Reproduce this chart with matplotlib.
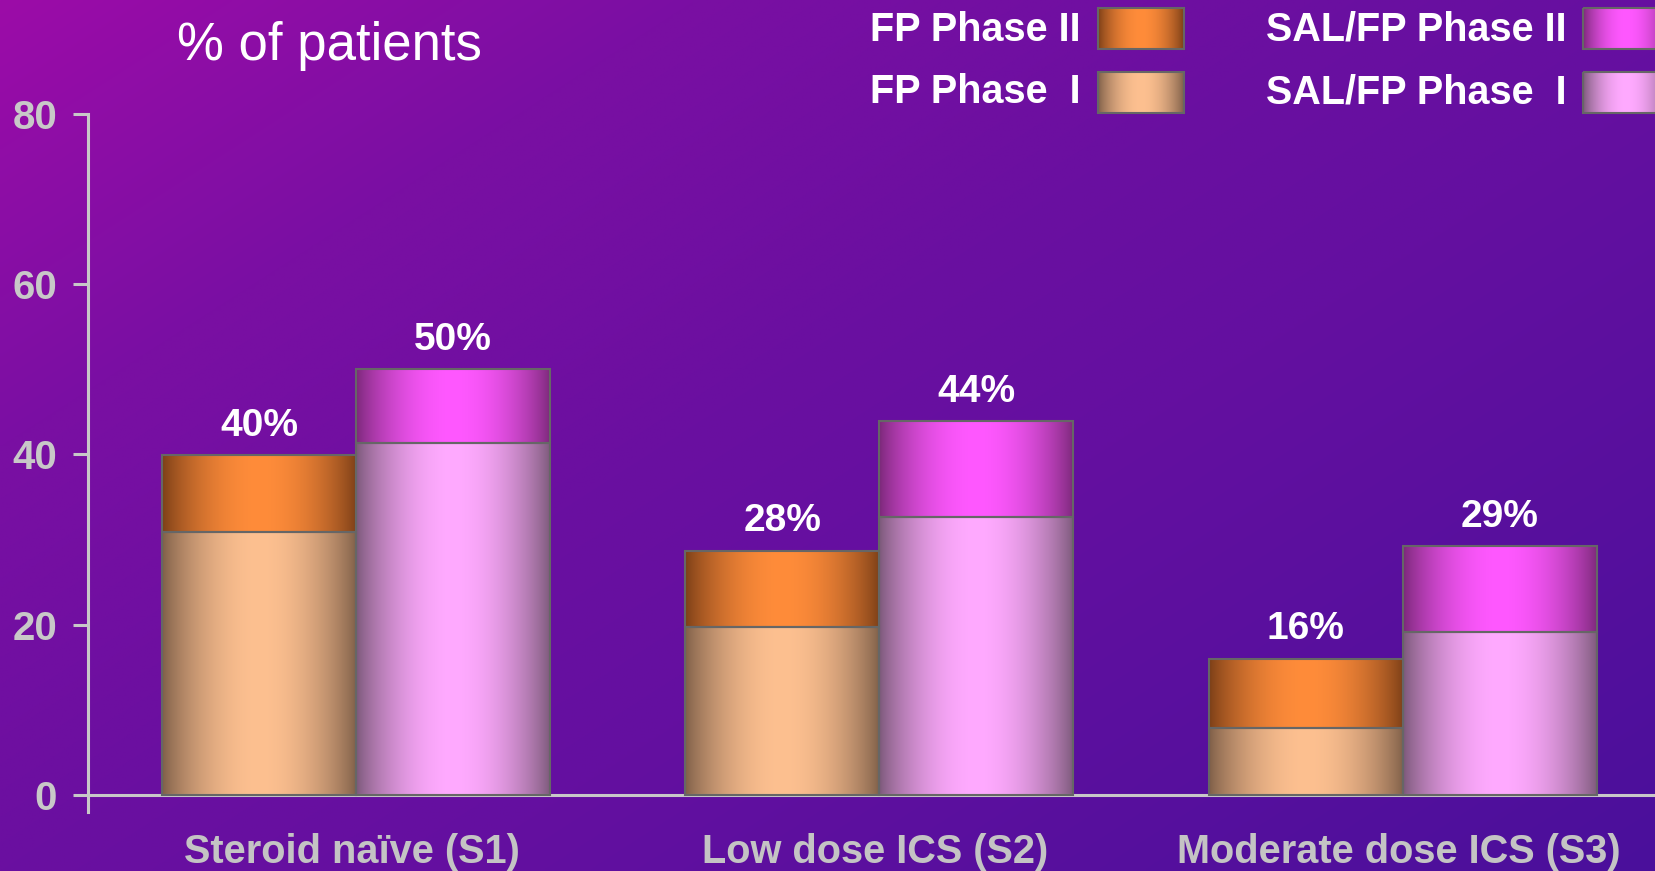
import numpy as np
import matplotlib
matplotlib.use("Agg")
import matplotlib.pyplot as plt
from matplotlib.colors import to_rgb
from matplotlib.patches import Rectangle

plt.rcParams['font.family'] = ['Liberation Sans', 'DejaVu Sans']

# data
groups = ["Steroid naïve (S1)", "Low dose ICS (S2)", "Moderate dose ICS (S3)"]
fp_phase1 = [30.9, 19.7, 7.9]
fp_phase2 = [9.0, 9.0, 8.1]
sal_phase1 = [41.3, 32.6, 19.2]
sal_phase2 = [8.7, 11.3, 10.0]
fp_labels = ["40%", "28%", "16%"]
sal_labels = ["50%", "44%", "29%"]
yticks = [0, 20, 40, 60, 80]
legend_rows = [("FP Phase II", "SAL/FP Phase II"), ("FP Phase  I", "SAL/FP Phase  I")]

# (dark edge, bright centre) for each segment
C_FP2 = ("#7a3e17", "#ff8c3a")
C_FP1 = ("#7d5e48", "#fdc090")
C_SAL2 = ("#7a2878", "#ff58ff")
C_SAL1 = ("#7a5878", "#ffaaff")
EDGE = "#666666"
AXC = "#c8c8c8"

W, H = 1656, 871


def grad_row(cols, n=256):
    t = np.linspace(0, 1, n)
    f = np.sin(np.pi * t) ** 0.8
    d, b = np.array(to_rgb(cols[0])), np.array(to_rgb(cols[1]))
    return (d + (b - d) * f[:, None])[None, :, :]


fig = plt.figure(figsize=(W / 100, H / 100), dpi=100)

# background: diagonal purple gradient
bg = fig.add_axes([0, 0, 1, 1], zorder=-1)
yy, xx = np.mgrid[0:1:200j, 0:1:400j]
t = xx * 0.55 + yy * 0.45
bg_pos = [0, 0.23, 0.45, 0.6, 1.0]
bg_cols = np.array([to_rgb(c) for c in ["#9c0ca8", "#7a0fa3", "#6a0fa0", "#6410a0", "#4a0f9b"]])
img = np.stack([np.interp(t, bg_pos, bg_cols[:, k]) for k in range(3)], axis=-1)
bg.imshow(img, extent=[0, 1, 0, 1], aspect="auto", interpolation="bilinear")
bg.axis("off")

# main axes
ax = fig.add_axes([88 / W, (H - 812) / H, (W - 88) / W, (812 - 114) / H])
ax.patch.set_alpha(0)
x = np.arange(len(groups))
bw = 0.3707


def draw_stack(xpos, bottoms, heights, cols):
    bars = ax.bar(xpos, heights, bw, bottom=bottoms, facecolor="none",
                  edgecolor=EDGE, linewidth=1.5, zorder=3)
    for p in bars:
        x0, y0 = p.get_x(), p.get_y()
        ax.imshow(grad_row(cols), extent=[x0, x0 + p.get_width(), y0, y0 + p.get_height()],
                  aspect="auto", interpolation="bilinear", zorder=2)
    return bars


fx = x - bw / 2
sx = x + bw / 2
draw_stack(fx, 0, fp_phase1, C_FP1)
draw_stack(fx, fp_phase1, fp_phase2, C_FP2)
draw_stack(sx, 0, sal_phase1, C_SAL1)
draw_stack(sx, sal_phase1, sal_phase2, C_SAL2)

fp_tot = np.add(fp_phase1, fp_phase2)
sal_tot = np.add(sal_phase1, sal_phase2)
for xi, v, lab in zip(fx, fp_tot, fp_labels):
    ax.annotate(lab, (xi, v), xytext=(0, 14), textcoords="offset points",
                ha="center", va="baseline", color="white", fontsize=28, fontweight="bold")
for xi, v, lab in zip(sx, sal_tot, sal_labels):
    ax.annotate(lab, (xi, v), xytext=(0, 14), textcoords="offset points",
                ha="center", va="baseline", color="white", fontsize=28, fontweight="bold")
for xi, lab in zip(x, groups):
    ax.annotate(lab, (xi, 0), xytext=(-3, -49), textcoords="offset points",
                ha="center", va="baseline", color="#c4c4c4", fontsize=28.6,
                fontweight="bold", annotation_clip=False)

ax.set_xlim(-0.512, 2.484)
ax.set_ylim(-2.0, 80)
ax.set_yticks(yticks)
ax.set_xticks([])
for s in ["top", "right"]:
    ax.spines[s].set_visible(False)
ax.spines["bottom"].set_position(("data", 0))
for s in ["left", "bottom"]:
    ax.spines[s].set_color(AXC)
    ax.spines[s].set_linewidth(2.2)
ax.tick_params(axis="y", direction="out", length=10.8, width=2.2, color=AXC,
               labelcolor=AXC, labelsize=29, pad=11.5)
for lab in ax.get_yticklabels():
    lab.set_fontweight("bold")

fig.text(177 / W, 1 - 60 / H, "% of patients", color="white", fontsize=38,
         ha="left", va="baseline")

# legend, drawn in figure pixels
ov = fig.add_axes([0, 0, 1, 1], zorder=5)
ov.axis("off")
ov.patch.set_alpha(0)
row_y = [(8, 49, 40.7), (72, 113, 103)]
col_x = [(1081, 1098, (C_FP2, C_FP1)), (1567, 1583, (C_SAL2, C_SAL1))]
for r, (y0, y1, base) in enumerate(row_y):
    for c, (tx, sx0, cols) in enumerate(col_x):
        ov.text(tx, base, legend_rows[r][c], color="white", fontsize=28.5,
                fontweight="bold", ha="right", va="baseline")
        ov.imshow(grad_row(cols[r]), extent=[sx0, sx0 + 86, y1, y0],
                  aspect="auto", interpolation="bilinear", zorder=2)
        ov.add_patch(Rectangle((sx0, y0), 86, y1 - y0, facecolor="none",
                               edgecolor=EDGE, linewidth=1.5, zorder=3))
ov.set_xlim(0, W)
ov.set_ylim(H, 0)

fig.savefig("out.png", dpi=100)
